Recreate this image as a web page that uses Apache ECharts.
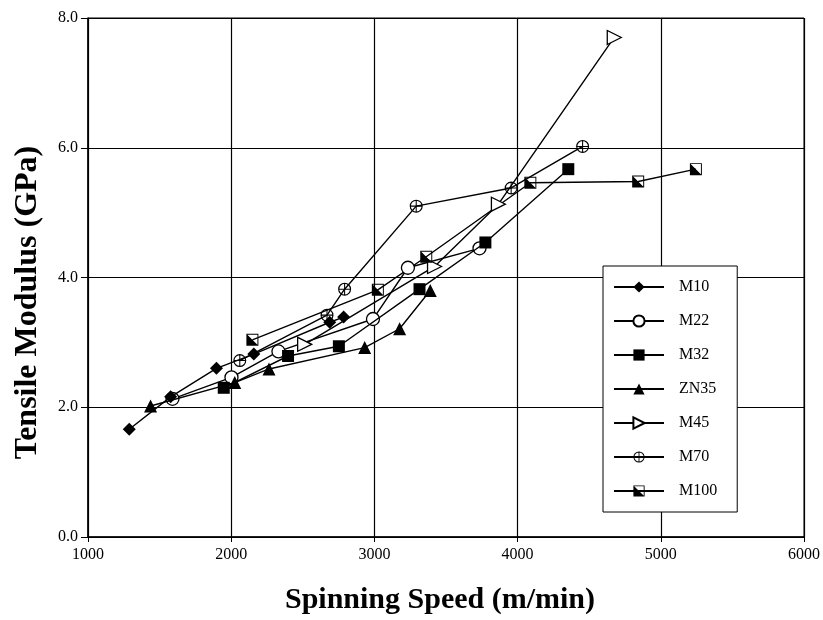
<!DOCTYPE html>
<html>
<head>
<meta charset="utf-8">
<script src="https://cdn.jsdelivr.net/npm/echarts@6/dist/echarts.min.js"></script>
<style>
  html, body { margin: 0; padding: 0; background: #fff; }
  #chart { width: 823px; height: 620px; }
</style>
</head>
<body>
<div id="chart"></div>
<script>
// data (spinning speed m/min, modulus GPa)
var m10X  = [1288, 1577, 1897, 2158, 2688, 2785];
var m10Y  = [1.66, 2.16, 2.60, 2.82, 3.31, 3.39];
var m22X  = [1590, 2002, 2330, 2990, 3234, 3734];
var m22Y  = [2.13, 2.46, 2.86, 3.36, 4.15, 4.45];
var m32X  = [1948, 2397, 2752, 3315, 3775, 4354];
var m32Y  = [2.30, 2.79, 2.94, 3.82, 4.54, 5.67];
var zn35X = [1437, 2025, 2264, 2932, 3176, 3390];
var zn35Y = [2.02, 2.38, 2.59, 2.92, 3.21, 3.80];
var m45X  = [2513, 3420, 3866, 4675];
var m45Y  = [2.97, 4.17, 5.13, 7.70];
var m70X  = [2060, 2669, 2792, 3292, 3955, 4454];
var m70Y  = [2.72, 3.42, 3.82, 5.10, 5.38, 6.02];
var m100X = [2148, 3024, 3362, 4089, 4842, 5245];
var m100Y = [3.04, 3.81, 4.32, 5.46, 5.48, 5.67];

var names = ['M10', 'M22', 'M32', 'ZN35', 'M45', 'M70', 'M100'];
var xTicks = [1000, 2000, 3000, 4000, 5000, 6000];
var yTicks = [0, 2, 4, 6, 8];

function pairs(xs, ys) {
    return xs.map(function (x, i) { return [x, ys[i]]; });
}

var crossCircle = 'path://M0,10 A10,10 0 1,1 20,10 A10,10 0 1,1 0,10 Z ' +
    'M1.8,10 A8.2,8.2 0 1,0 18.2,10 A8.2,8.2 0 1,0 1.8,10 Z ' +
    'M9.2,0.5 L10.8,0.5 L10.8,19.5 L9.2,19.5 Z M0.5,9.2 L19.5,9.2 L19.5,10.8 L0.5,10.8 Z';
var halfSquare = 'path://M0,0 L20,0 L20,20 L0,20 Z M1.6,1.6 L1.6,18.4 L18.4,18.4 L18.4,1.6 Z ' +
    'M0,0 L20,20 L0,20 Z';

var serif = '"Liberation Serif", "DejaVu Serif", serif';

function line(name, xs, ys, symbol, opts) {
    opts = opts || {};
    return {
        name: name,
        type: 'line',
        data: pairs(xs, ys),
        symbol: symbol,
        symbolSize: opts.size || 11,
        symbolRotate: opts.rotate || 0,
        showAllSymbol: true,
        z: opts.z || 2,
        lineStyle: { color: '#000', width: 1.4 },
        itemStyle: {
            color: opts.open ? '#fff' : '#000',
            borderColor: '#000',
            borderWidth: opts.open ? 1.3 : 0
        },
        emphasis: { disabled: true },
        animation: false
    };
}

var myChart = echarts.init(document.getElementById('chart'));
var option = {
    backgroundColor: '#fff',
    grid: {
        left: 88, right: 18, top: 18, bottom: 82,
        show: true, borderColor: '#000', borderWidth: 1
    },
    legend: {
        data: names,
        orient: 'vertical',
        left: 603,
        top: 266,
        width: 134,
        backgroundColor: '#fff',
        borderColor: '#000',
        borderWidth: 1,
        padding: [13, 20, 13, 10],
        itemWidth: 50,
        itemHeight: 14,
        itemGap: 18,
        textStyle: {
            fontFamily: serif, fontSize: 16, color: '#000',
            lineHeight: 14, padding: [0, 0, 0, 10]
        },
        selectedMode: false
    },
    xAxis: {
        type: 'value',
        min: 1000, max: 6000, interval: 1000,
        name: 'Spinning Speed (m/min)',
        nameLocation: 'middle',
        nameGap: 48,
        nameTextStyle: {
            fontFamily: serif, fontSize: 30, fontWeight: 'bold', color: '#000',
            padding: [0, 12, 0, 0]
        },
        axisLine: { lineStyle: { color: '#000', width: 1.5 } },
        axisTick: { show: true, length: 5, lineStyle: { color: '#000' } },
        axisLabel: {
            fontFamily: serif, fontSize: 16, color: '#000', margin: 10,
            formatter: function (v) { return xTicks.indexOf(v) >= 0 ? String(v) : ''; }
        },
        splitLine: { show: true, lineStyle: { color: '#000', width: 1.2 } }
    },
    yAxis: {
        type: 'value',
        min: 0, max: 8, interval: 2,
        name: 'Tensile Modulus (GPa)',
        nameLocation: 'middle',
        nameGap: 44,
        nameTextStyle: {
            fontFamily: serif, fontSize: 32, fontWeight: 'bold', color: '#000',
            padding: [0, 50, 0, 0]
        },
        axisLine: { show: true, lineStyle: { color: '#000', width: 1.5 } },
        axisTick: { show: true, length: 7, lineStyle: { color: '#000' } },
        axisLabel: {
            fontFamily: serif, fontSize: 16, color: '#000', margin: 10,
            formatter: function (v) { return yTicks.indexOf(v) >= 0 ? v.toFixed(1) : ''; }
        },
        splitLine: { show: true, lineStyle: { color: '#000', width: 1.2 } }
    },
    series: [
        line('M10', m10X, m10Y, 'diamond', { size: 13, z: 4 }),
        line('M22', m22X, m22Y, 'circle', { open: true, size: 13 }),
        line('M32', m32X, m32Y, 'rect', { size: 12, z: 3 }),
        line('ZN35', zn35X, zn35Y, 'triangle', { size: 13, z: 3 }),
        line('M45', m45X, m45Y, 'triangle', { open: true, rotate: -90, size: 14 }),
        line('M70', m70X, m70Y, crossCircle, { size: 13 }),
        line('M100', m100X, m100Y, halfSquare, { size: 12 })
    ]
};
myChart.setOption(option);
</script>
</body>
</html>
